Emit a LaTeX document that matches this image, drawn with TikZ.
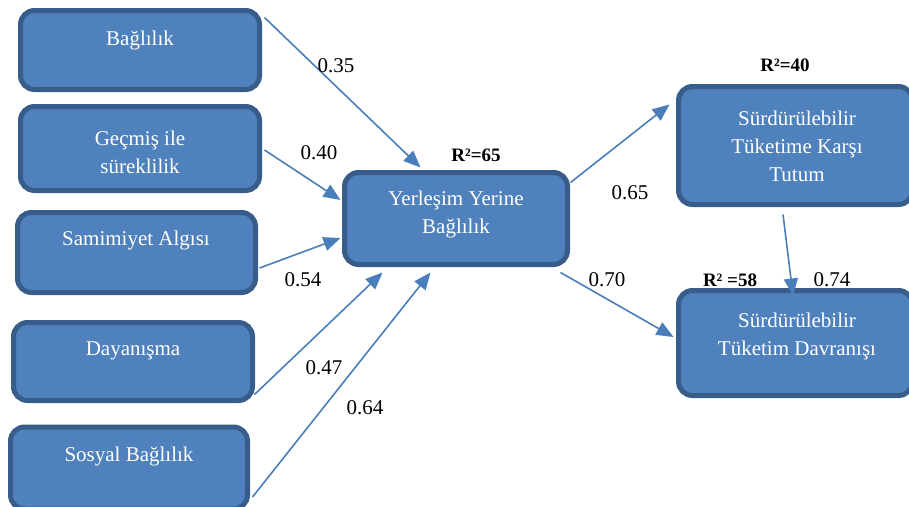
\documentclass[tikz,border=0pt]{standalone}
\usepackage{fontspec}
\setmainfont{Liberation Serif}
\usetikzlibrary{arrows.meta,calc}
\definecolor{boxfill}{HTML}{4F81BD}
\definecolor{boxborder}{HTML}{385D8A}
\definecolor{linec}{HTML}{4A7EBB}
\tikzset{
  box/.style={draw=boxborder, fill=boxfill, line width=5pt, rounded corners=14pt, inner sep=0pt},
  btxt/.style={text=white, align=center, inner sep=0pt, font=\fontsize{21}{28}\selectfont},
  lbl/.style={inner sep=0pt, font=\fontsize{21}{25}\selectfont},
  rsq/.style={inner sep=0pt, font=\bfseries\fontsize{19}{23}\selectfont},
  arr/.style={draw=linec, line width=1.6pt, -{Triangle[length=17pt,width=14pt]}}
}
\begin{document}
\begin{tikzpicture}[x=1pt,y=-1pt]
\useasboundingbox (0,0) rectangle (909,506);
% boxes
\node[box, minimum width=239pt, minimum height=79pt] (b1) at (140,50) {};
\node[box, minimum width=239pt, minimum height=84pt] (b2) at (140,148.5) {};
\node[box, minimum width=238pt, minimum height=80pt] (b3) at (136.5,252.5) {};
\node[box, minimum width=239pt, minimum height=78pt] (b4) at (133,361.5) {};
\node[box, minimum width=237pt, minimum height=82pt] (b5) at (129,468) {};
\node[box, minimum width=223pt, minimum height=92pt] (c) at (456,218.5) {};
\node[box, minimum width=234pt, minimum height=118pt] (rt) at (795.5,145.5) {};
\node[box, minimum width=234pt, minimum height=105pt] (rb) at (795.5,343) {};
% box texts
\node[btxt] (t1) at (140,40) {Bağlılık};
\node[btxt] (t2) at (140,152) {Geçmiş ile\\süreklilik};
\node[btxt] (t3) at (136,240) {Samimiyet Algısı};
\node[btxt] (t4) at (133,351) {Dayanışma};
\node[btxt] (t5) at (129,456) {Sosyal Bağlılık};
\node[btxt] (tc) at (456,214) {Yerleşim Yerine\\Bağlılık};
\node[btxt] (trt) at (797,146) {Sürdürülebilir\\Tüketime Karşı\\Tutum};
\node[btxt] (trb) at (797,336) {Sürdürülebilir\\Tüketim Davranışı};
% arrows
\draw[arr] ($(b1.north east)+(2.5,9.5)$) -- ($(c.north west)+(78.5,-2.5)$);
\draw[arr] ($(b2.east)+(2.5,1.5)$) -- ($(c.west)+(-1.5,-18.5)$);
\draw[arr] ($(b3.east)+(1.5,15.5)$) -- ($(c.west)+(-1.5,19.5)$);
\draw[arr] ($(b4.south east)+(-0.5,-8.5)$) -- ($(c.south west)+(40.5,5.5)$);
\draw[arr] ($(b5.east)+(2.5,29)$) -- ($(c.south west)+(88.5,5.5)$);
\draw[arr] ($(c.north east)+(0.5,12.5)$) -- ($(rt.north west)+(-6.5,20.5)$);
\draw[arr] ($(c.south east)+(-9.5,5.5)$) -- ($(rb.west)+(-2.5,-6)$);
\draw[arr] ($(rt.south)+(-12.5,7.5)$) -- ($(rb.north)+(-2.5,7.5)$);
% coefficient labels
\node[lbl] (l1) at (336,66) {0.35};
\node[lbl] (l2) at (319,153) {0.40};
\node[lbl] (l3) at (303,280) {0.54};
\node[lbl] (l4) at (324,368) {0.47};
\node[lbl] (l5) at (365,408) {0.64};
\node[lbl] (l6) at (630,193) {0.65};
\node[lbl] (l7) at (607,280) {0.70};
\node[lbl] (l8) at (832,280) {0.74};
% R squared
\node[rsq] (r1) at (476,155) {R²=65};
\node[rsq] (r2) at (785,65) {R²=40};
\node[rsq] (r3) at (730,280) {R² =58};
\end{tikzpicture}
\end{document}
